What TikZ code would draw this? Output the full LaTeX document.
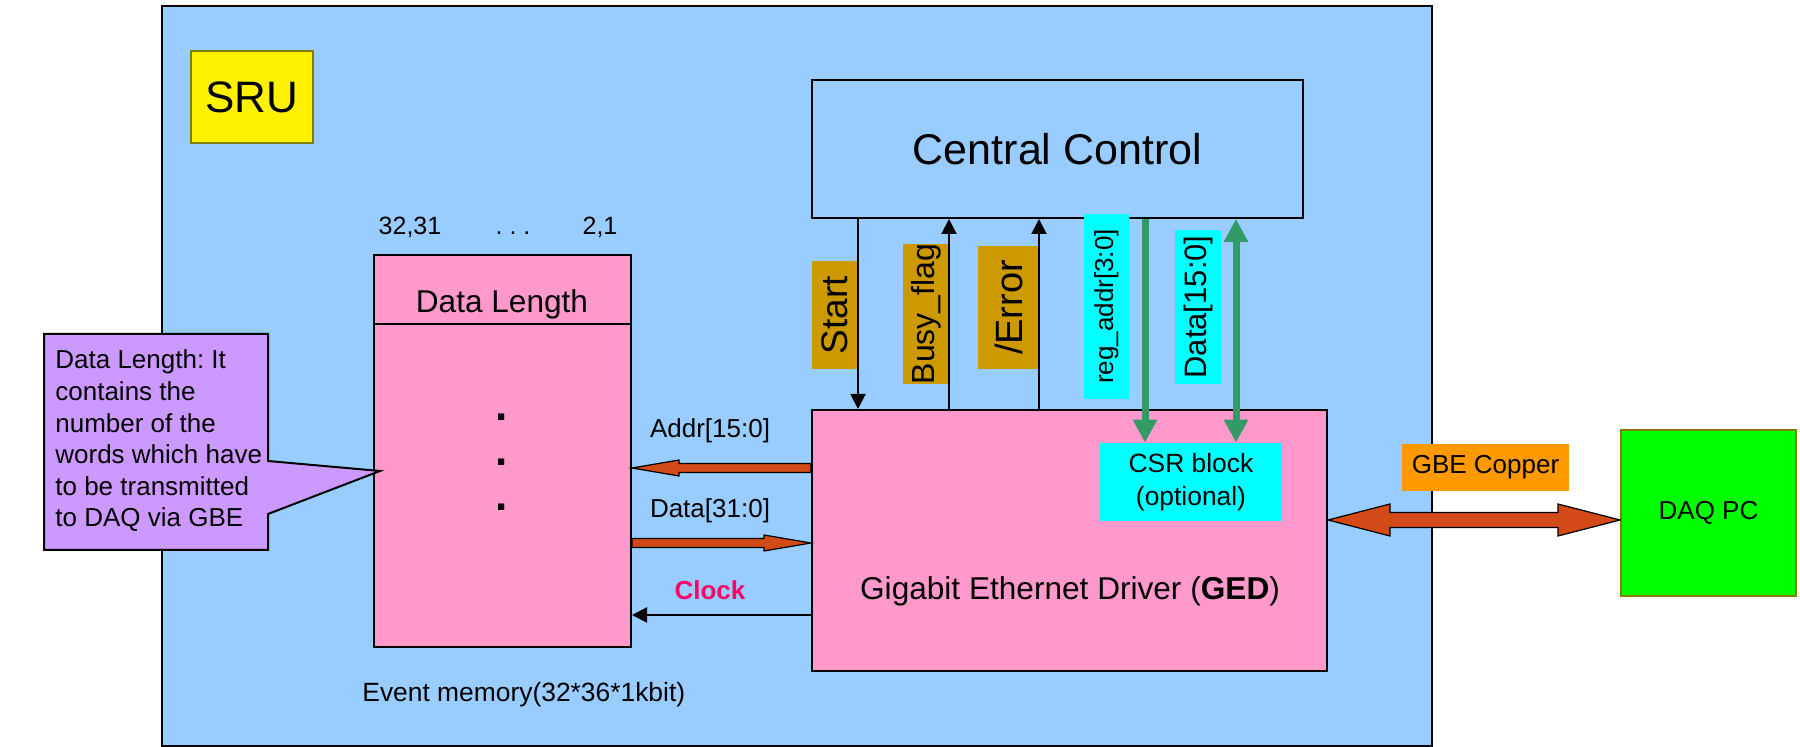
\documentclass[tikz,border=0pt]{standalone}
\usepackage{fontspec}
\setmainfont{Liberation Sans}
\usetikzlibrary{arrows.meta,calc}
\frenchspacing

\definecolor{srublue}{HTML}{99CCFF}
\definecolor{gedpink}{HTML}{FF99CC}
\definecolor{notepurple}{HTML}{CC99FF}
\definecolor{sigbrown}{HTML}{CC9900}
\definecolor{regcyan}{HTML}{00FFFF}
\definecolor{busgreen}{HTML}{339966}
\definecolor{busred}{HTML}{D24A18}
\definecolor{gbeorange}{HTML}{FF9900}
\definecolor{pcgreen}{HTML}{00FF00}
\definecolor{boxolive}{HTML}{808000}
\definecolor{clockred}{HTML}{FF0066}

\begin{document}
\begin{tikzpicture}[x=0.5pt,y=-0.5pt,
  block/.style={draw,line width=1pt,inner sep=0pt},
  siglabel/.style={fill=sigbrown,rotate=90,inner sep=0pt,minimum height=23pt},
  reglabel/.style={fill=regcyan,rotate=90,inner sep=0pt},
  txt/.style={inner sep=0pt},
  sig/.style={line width=1pt,>={Triangle[length=7.5pt,width=7.5pt]},->},
  csrbus/.style={busgreen,line width=3.5pt,>={Triangle[length=11.5pt,width=11.5pt]}},
  busarrow/.style={fill=busred,draw=black,line width=0.6pt}]
\useasboundingbox (0,0) rectangle (1800,747);

% SRU board
\draw[fill=srublue,line width=1pt] (162,6) rectangle (1432,746);
\node[block,draw=boxolive,fill=yellow,minimum width=61pt,minimum height=46pt,font=\fontsize{22}{26}\selectfont] (sru) at (252,97) {SRU};

\node[block,minimum width=245.5pt,minimum height=69pt,font=\fontsize{21.5}{26}\selectfont] (cc) at (1057.5,149) {Central Control};

% event memory
\node[block,fill=gedpink,minimum width=128.5pt,minimum height=196pt] (mem) at (502.5,451) {};
\draw[line width=1pt] (mem.west |- 0,324) -- (mem.east |- 0,324);
\node[txt,font=\fontsize{15.8}{19}\selectfont] (dlen) at (502,304) {Data Length};
\node[txt,anchor=base,font=\fontsize{12.5}{15}\selectfont] (b32) at (410,235) {32,31};
\node[txt,anchor=base,font=\fontsize{12.5}{15}\selectfont] (bdots) at (513,235) {. . .};
\node[txt,anchor=base,font=\fontsize{12.5}{15}\selectfont] (b2) at (600,235) {2,1};
\foreach \y in {417,462,507}
  \node[txt,font=\fontsize{22}{24}\selectfont\bfseries] (dot\y) at (502,\y) {.};
\node[txt,anchor=west,font=\fontsize{13.2}{16}\selectfont] (evmem) at (362,695) {Event memory(32*36*1kbit)};

% GED
\node[block,fill=gedpink,minimum width=257.5pt,minimum height=130.5pt] (ged) at (1069.5,540.5) {};
\node[txt,font=\fontsize{15.8}{19}\selectfont] (gedtxt) at (1070,591) {Gigabit Ethernet Driver (\textbf{GED})};
\node[fill=regcyan,inner sep=0pt,minimum width=91pt,minimum height=39pt,align=center,font=\fontsize{13.2}{16.5}\selectfont] (csr) at (1191,482) {CSR block\\(optional)};

% control signals
\node[siglabel,minimum width=54pt,font=\fontsize{18.5}{22}\selectfont] (startlbl) at (835,315) {Start};
\node[siglabel,minimum width=69pt,font=\fontsize{16}{19}\selectfont] (busylbl) at (926,314) {Busy\_flag};
\node[siglabel,minimum width=61.5pt,minimum height=30.5pt,font=\fontsize{19}{22}\selectfont] (errlbl) at (1008.5,307.5) {/Error};
\node[reglabel,minimum width=92.5pt,minimum height=22.5pt,font=\fontsize{13}{16}\selectfont] (reglbl) at (1106.5,306.5) {reg\_addr[3:0]};
\node[reglabel,minimum width=77pt,minimum height=23pt,font=\fontsize{15.5}{18}\selectfont] (datlbl) at (1198,307) {Data[15:0]};

\draw[sig] (858,0 |- cc.south) -- (858,0 |- ged.north);
\draw[sig] (949,0 |- ged.north) -- (949,0 |- cc.south);
\draw[sig] (1039,0 |- ged.north) -- (1039,0 |- cc.south);
\draw[csrbus,->] (1145,0 |- cc.south) -- (1145,0 |- csr.north);
\draw[csrbus,<->] (1236,0 |- cc.south) -- (1236,0 |- csr.north);

% memory bus
\node[txt,font=\fontsize{13}{16}\selectfont] (addrlbl) at (710,431) {Addr[15:0]};
\node[txt,font=\fontsize{13}{16}\selectfont] (datalbl) at (710,511) {Data[31:0]};
\node[txt,font=\fontsize{13}{16}\selectfont\bfseries,text=clockred] (clklbl) at (710,590) {Clock};

\draw[busarrow] let \p1=(ged.west |- 0,468), \p2=(mem.east |- 0,468) in
  (\x1,\y1+2.25pt) -- (\x2+23.5pt,\y1+2.25pt) -- (\x2+23.5pt,\y1+4pt) -- (\x2,\y1)
  -- (\x2+23.5pt,\y1-4pt) -- (\x2+23.5pt,\y1-2.25pt) -- (\x1,\y1-2.25pt) -- cycle;
\draw[busarrow] let \p1=(mem.east |- 0,543), \p2=(ged.west |- 0,543) in
  (\x1,\y1+2.25pt) -- (\x2-23.5pt,\y1+2.25pt) -- (\x2-23.5pt,\y1+4pt) -- (\x2,\y1)
  -- (\x2-23.5pt,\y1-4pt) -- (\x2-23.5pt,\y1-2.25pt) -- (\x1,\y1-2.25pt) -- cycle;
\draw[sig] (ged.west |- 0,615) -- (mem.east |- 0,615);

% callout
\coordinate (notetip) at (380,471);
\draw[fill=notepurple,line width=1pt] (44,334) -| (268,461) -- (notetip) -- (268,514) |- (44,550) -- cycle;
\node[txt,anchor=west,align=left,font=\fontsize{13}{15.8}\selectfont] (note) at (55,441)
  {Data Length: It\\contains the\\number of the\\words which have\\to be transmitted\\to DAQ via GBE};

% DAQ PC
\node[block,draw=boxolive,fill=pcgreen,minimum width=87.5pt,minimum height=83pt,font=\fontsize{13}{16}\selectfont] (daq) at (1708.5,513) {DAQ PC};
\node[fill=gbeorange,inner sep=0pt,minimum width=83.5pt,minimum height=23.5pt,font=\fontsize{13}{16}\selectfont] (gbelbl) at (1485.5,467.5) {GBE Copper};
\draw[busarrow] let \p1=(ged.east |- 0,520), \p2=(daq.west |- 0,520) in
  (\x1,\y1) -- (\x1+31pt,\y1+8pt) -- (\x1+31pt,\y1+3.75pt) -- (\x2-31pt,\y1+3.75pt)
  -- (\x2-31pt,\y1+8pt) -- (\x2,\y1) -- (\x2-31pt,\y1-8pt) -- (\x2-31pt,\y1-3.75pt)
  -- (\x1+31pt,\y1-3.75pt) -- (\x1+31pt,\y1-8pt) -- cycle;

\end{tikzpicture}
\end{document}
